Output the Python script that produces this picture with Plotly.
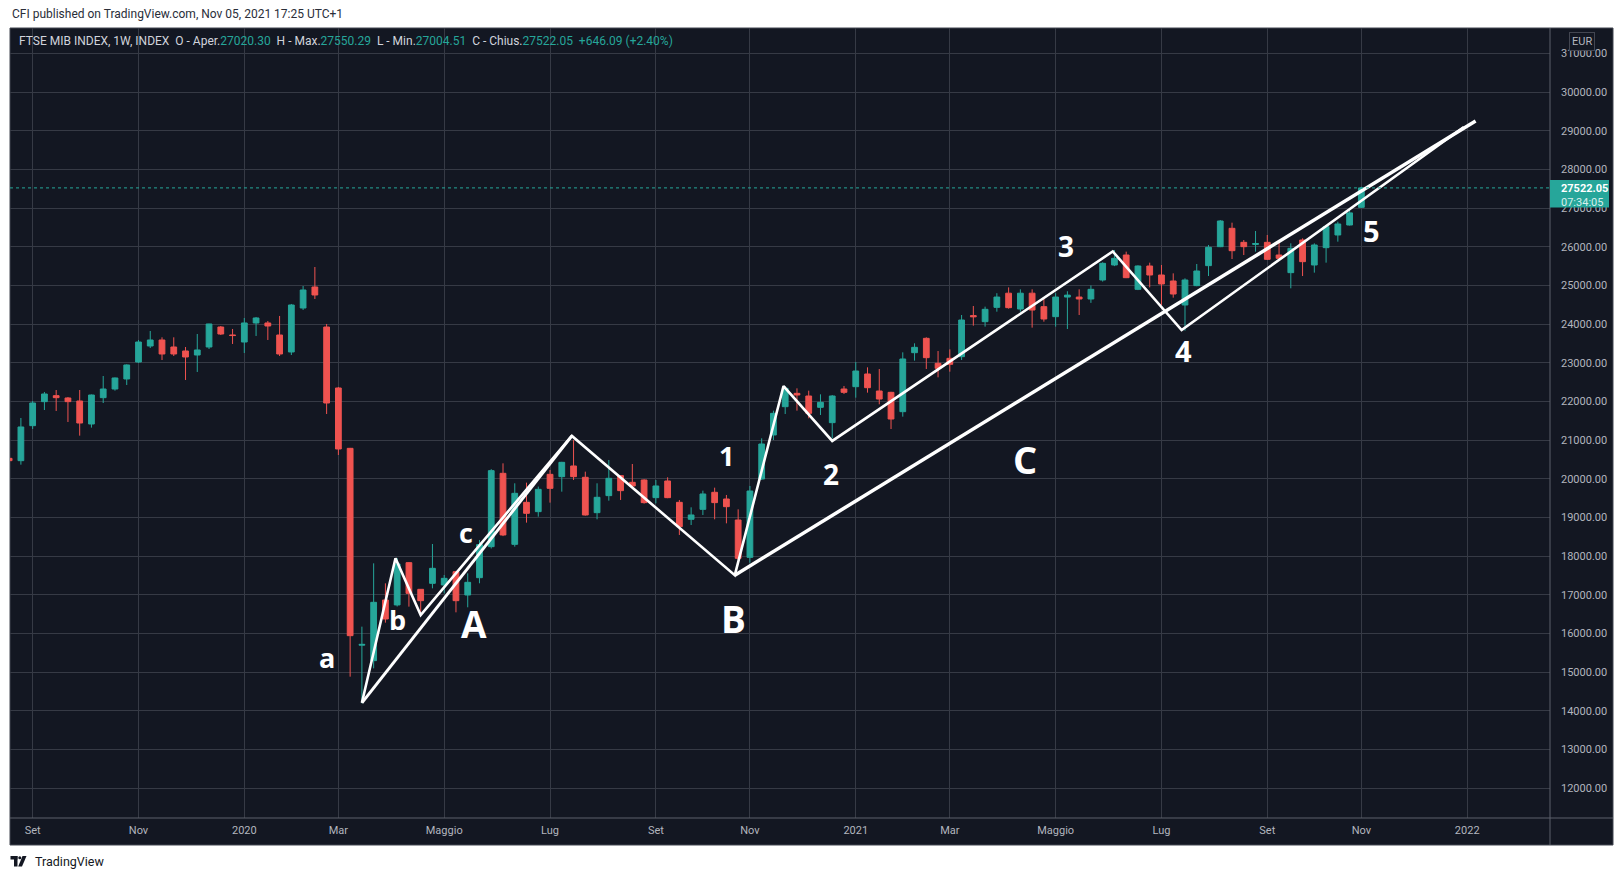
import pandas as pd
import plotly.graph_objects as go

# ---------------- data ----------------
first_week = "2019-08-19"
opens = [20530, 20470, 21375, 21996, 22151, 22091, 22013, 21418, 22099, 22323, 22582, 23021, 23435, 23590, 23409, 23306, 23202, 23409, 23926, 23720,
         23538, 24030, 24030, 23719, 23280, 24417, 24960, 23926, 22349, 20789, 15700, 15300, 16868, 16740, 17833, 17144, 17299, 17256, 17600, 16997,
         17445, 18247, 20143, 18307, 19393, 19152, 20117, 20057, 20333, 20040, 19126, 19566, 20083, 19910, 19971, 19514, 19945, 19393, 18954, 19212,
         19652, 19479, 18936, 17971, 19997, 21134, 21866, 22211, 22142, 21849, 21453, 22323, 22383, 22711, 22271, 22237, 21737, 23262, 23633, 22987,
         23116, 23159, 24220, 24064, 24434, 24800, 24391, 24800, 24452, 24193, 24700, 24700, 24650, 25141, 25529, 25787, 24900, 25503, 25270, 25115,
         24495, 24995, 25512, 26003, 26477, 26115, 26060, 26115, 25787, 25331, 26175, 25529, 25977, 26305, 26563, 27020.30]
highs = [21050, 21574, 22013, 22246, 22297, 22116, 22297, 22180, 22659, 22620, 22960, 23590, 23823, 23659, 23659, 23409, 23745, 24010, 23952, 23875,
         24159, 24185, 24081, 24211, 24521, 24986, 25477, 24004, 22375, 20800, 16179, 17816, 17299, 17950, 17850, 17150, 18316, 17514, 17620, 17557,
         18420, 20250, 20401, 19885, 19902, 19800, 20229, 20440, 21005, 20186, 19885, 20488, 20100, 20384, 19990, 19971, 20040, 19454, 19264, 19695,
         19772, 19583, 19212, 19816, 21048, 21763, 22400, 22340, 22280, 22185, 22168, 22401, 23021, 22883, 22840, 22250, 23271, 23504, 23659, 23305,
         23348, 24236, 24469, 24452, 24800, 24950, 24900, 24900, 24700, 24800, 24850, 24900, 25000, 25600, 25917, 25874, 25520, 25589, 25529, 25313,
         25184, 25555, 26046, 26692, 26623, 26175, 26408, 26305, 26175, 26089, 26218, 26089, 26563, 26649, 26951, 27550.29]
lows = [20450, 20367, 21289, 21780, 21755, 21470, 21117, 21324, 21961, 22280, 22427, 22995, 23383, 23073, 23176, 22556, 22763, 23357, 23719, 23487,
        23254, 23694, 23590, 23176, 23202, 24366, 24650, 21677, 20617, 14886, 14197, 15101, 16282, 16700, 16696, 16480, 17170, 17040, 16549, 16679,
        17300, 18200, 18520, 18247, 18868, 19022, 19385, 19669, 19971, 19050, 18954, 19436, 19454, 19800, 19360, 19367, 19500, 18549, 18807, 19066,
        18954, 18850, 17902, 17833, 19970, 21004, 21677, 21763, 21565, 21651, 21048, 22194, 22099, 22228, 21927, 21289, 21608, 23056, 22840, 22625,
        22771, 23073, 23960, 23935, 24322, 24400, 24322, 23909, 24064, 23935, 23874, 24236, 24550, 25100, 25500, 25190, 24880, 24951, 24495, 24684,
        23831, 24980, 25244, 25990, 25684, 25787, 25874, 25660, 25690, 24926, 25244, 25331, 25589, 26132, 26550, 27004.51]
closes = [20470, 21341, 21961, 22194, 22099, 21996, 21444, 22168, 22323, 22608, 22944, 23538, 23590, 23228, 23228, 23151, 23332, 24004, 23745, 23705,
          24030, 24159, 23952, 23228, 24495, 24883, 24754, 21961, 20772, 15946, 15720, 16808, 16377, 17800, 17040, 16851, 17687, 17428, 16851, 17325,
          18300, 20212, 18549, 19626, 19109, 19729, 19755, 20427, 20057, 19066, 19523, 20014, 19695, 19816, 19385, 19816, 19514, 18764, 19066, 19609,
          19385, 19281, 17945, 19686, 20901, 21694, 22340, 22168, 21694, 21978, 22142, 22237, 22788, 22357, 22064, 21547, 23099, 23400, 23133, 22857,
          22961, 24107, 24190, 24383, 24700, 24426, 24800, 24365, 24133, 24700, 24750, 24650, 24900, 25572, 25701, 25201, 25503, 25270, 25038, 24779,
          25141, 25374, 25986, 26666, 25899, 26003, 26085, 25675, 25701, 25960, 25615, 26046, 26520, 26589, 26876, 27522.05]

# Elliott-wave annotations (date, level)
zigzag_dates = ["2020-03-16", "2020-04-05", "2020-04-20", "2020-07-19", "2020-10-24", "2020-11-22",
                "2020-12-21", "2021-06-06", "2021-07-17", "2022-01-01"]
zigzag_levels = [14210, 17946, 16480, 21110, 17510, 22400, 20980, 25880, 23848, 29096]
leg_a_dates = ["2020-03-16", "2020-07-19"]
leg_a_levels = [14210, 21110]
leg_c_dates = ["2020-10-24", "2022-01-08"]
leg_c_levels = [17510, 29252]

wave_labels = ["a", "b", "c", "A", "B", "1", "2", "C", "3", "4", "5"]
wave_label_dates = ["2020-02-24", "2020-04-06", "2020-05-17", "2020-05-22", "2020-10-23", "2020-10-19",
                    "2020-12-20", "2021-04-15", "2021-05-09", "2021-07-18", "2021-11-07"]
wave_label_levels = [15376, 16367, 18626, 16261, 16395, 20599, 20115, 20519, 26033, 23331, 26408]
wave_label_sizes = [27, 27, 27, 37, 37, 27, 28, 38, 28, 29, 29]

last_price = 27522.05
price_ticks = list(range(12000, 32000, 1000))
month_ticks = ["2019-09-02", "2019-11-04", "2020-01-06", "2020-03-02", "2020-05-04", "2020-07-06", "2020-09-07",
               "2020-11-02", "2021-01-04", "2021-03-01", "2021-05-03", "2021-07-05", "2021-09-06", "2021-11-01", "2022-01-03"]
month_labels = ["Set", "Nov", "2020", "Mar", "Maggio", "Lug", "Set", "Nov", "2021", "Mar", "Maggio", "Lug", "Set", "Nov", "2022"]

# ---------------- layout constants ----------------
W, H = 1624, 880
L, R, T, B = 10, 74, 28, 62
PW, PH = W - L - R, H - T - B
BG = "#131722"
GRID = "#363a45"
UP, DOWN = "#26a69a", "#ef5350"
TXT = "#b2b5be"


def px(x):
    return (x - L) / PW


def py(y):
    return (H - B - y) / PH


dates = pd.date_range(first_week, periods=len(opens), freq="W-MON")
x_left = pd.Timestamp("2020-01-06") - pd.Timedelta(days=139.49)
x_right = pd.Timestamp("2020-01-06") + pd.Timedelta(days=777.3)

fig = go.Figure()
fig.add_trace(go.Candlestick(
    x=dates, open=opens, high=highs, low=lows, close=closes,
    increasing=dict(line=dict(color=UP, width=1), fillcolor=UP),
    decreasing=dict(line=dict(color=DOWN, width=1), fillcolor=DOWN),
    whiskerwidth=0, showlegend=False, hoverinfo="skip"))

for dts, lv, w in [(leg_a_dates, leg_a_levels, 3), (leg_c_dates, leg_c_levels, 3.5), (zigzag_dates, zigzag_levels, 2.6)]:
    fig.add_trace(go.Scatter(x=pd.to_datetime(dts), y=lv, mode="lines",
                             line=dict(color="white", width=w), showlegend=False, hoverinfo="skip"))

for t, d, v, s in zip(wave_labels, wave_label_dates, wave_label_levels, wave_label_sizes):
    fig.add_annotation(x=pd.Timestamp(d), y=v, xref="x", yref="y", text=f"<b>{t}</b>", showarrow=False,
                       font=dict(family="Open Sans", size=s, color="white"), xanchor="center", yanchor="middle")

shapes = [
    dict(type="rect", xref="paper", yref="paper", x0=px(10), x1=px(1613), y0=py(845), y1=py(28),
         fillcolor=BG, line=dict(color="#434651", width=1), layer="below"),
    dict(type="line", xref="paper", yref="y", x0=0, x1=1, y0=last_price, y1=last_price,
         line=dict(color=UP, width=1, dash="dot"), layer="above"),
    dict(type="line", xref="paper", yref="paper", x0=1, x1=1, y0=py(845), y1=py(28),
         line=dict(color="#5d606b", width=1), layer="above"),
    dict(type="line", xref="paper", yref="paper", x0=px(10), x1=px(1613), y0=0, y1=0,
         line=dict(color="#5d606b", width=1), layer="above"),
    dict(type="rect", xref="paper", yref="paper", x0=px(1550), x1=px(1609), y0=py(207.5), y1=py(180),
         fillcolor=UP, line=dict(width=0), layer="above"),
    # TradingView logo
    dict(type="rect", xref="paper", yref="paper", x0=px(10.5), x1=px(17.5), y0=py(859.5), y1=py(856),
         fillcolor="#131722", line=dict(width=0)),
    dict(type="rect", xref="paper", yref="paper", x0=px(14), x1=px(17.5), y0=py(866.5), y1=py(856),
         fillcolor="#131722", line=dict(width=0)),
    dict(type="circle", xref="paper", yref="paper", x0=px(18.3), x1=px(21.3), y0=py(859.3), y1=py(856.3),
         fillcolor="#131722", line=dict(width=0)),
    dict(type="path", xref="paper", yref="paper",
         path=f"M {px(22.5)} {py(856)} L {px(26.5)} {py(856)} L {px(22)} {py(866.5)} L {px(18.2)} {py(866.5)} Z",
         fillcolor="#131722", line=dict(width=0)),
]

nb = "\u00a0"
val = lambda s: f"<span style='color:{UP}'>{s}</span>"
legend_txt = (f"FTSE MIB INDEX, 1W, INDEX{nb}{nb}O - Aper.{val('27020.30')}{nb}{nb}H - Max.{val('27550.29')}"
              f"{nb}{nb}L - Min.{val('27004.51')}{nb}{nb}C - Chius.{val('27522.05')}{nb}{nb}{val('+646.09 (+2.40%)')}")

annotations = [
    dict(xref="paper", yref="paper", x=px(10), y=py(14.5), text="CFI published on TradingView.com, Nov 05, 2021 17:25 UTC+1",
         showarrow=False, xanchor="left", yanchor="middle", font=dict(family="Roboto", size=12, color="#2a2e39")),
    dict(xref="paper", yref="paper", x=px(16.5), y=py(41.4), text=legend_txt, showarrow=False,
         xanchor="left", yanchor="middle", font=dict(family="Roboto", size=12, color="#d1d4dc")),
    dict(xref="paper", yref="paper", x=px(1581.5), y=py(41.5), text="EUR", showarrow=False,
         xanchor="center", yanchor="middle", font=dict(family="Roboto", size=11, color=TXT),
         bordercolor="#434651", borderwidth=1, borderpad=2, bgcolor=BG),
    dict(xref="paper", yref="paper", x=px(1559), y=py(195), showarrow=False,
         text="<b>27522.05</b><br><span style='color:#d8efec'>07:34:05</span>",
         xanchor="left", yanchor="middle", align="left", font=dict(family="Roboto", size=11, color="white")),
    dict(xref="paper", yref="paper", x=px(33), y=py(861), text="TradingView", showarrow=False,
         xanchor="left", yanchor="middle", font=dict(family="Roboto", size=12.5, color="#131722")),
]
for a in annotations:
    fig.add_annotation(**a)

fig.update_layout(
    width=W, height=H, margin=dict(l=L, r=R, t=T, b=B, autoexpand=False),
    paper_bgcolor="white", plot_bgcolor=BG, shapes=shapes, showlegend=False,
    font=dict(family="Roboto", size=11, color=TXT),
    xaxis=dict(type="date", range=[x_left, x_right], tickvals=pd.to_datetime(month_ticks), ticktext=month_labels,
               showgrid=True, gridcolor=GRID, gridwidth=1, zeroline=False, showline=False, ticks="",
               rangeslider=dict(visible=False), tickfont=dict(family="Roboto", size=11, color=TXT),
               ticklabelstandoff=4),
    yaxis=dict(side="right", range=[11232, 31656], tickvals=price_ticks, ticktext=[f"{v:.2f}" for v in price_ticks],
               showgrid=True, gridcolor=GRID, gridwidth=1, zeroline=False, showline=False, ticks="",
               tickfont=dict(family="Roboto", size=11, color=TXT), ticklabelstandoff=10),
    hovermode=False,
)

fig.write_html("out.html")
